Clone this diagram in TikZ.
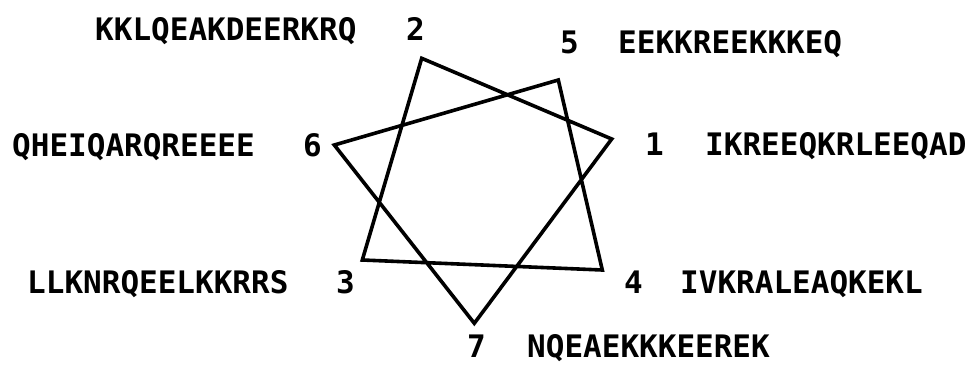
\documentclass[tikz,border=0pt]{standalone}
\usepackage{fontspec}
\newfontfamily\seqfont{DejaVu Sans Mono}
\begin{document}
\begin{tikzpicture}[x=1pt,y=-1pt,
  lbl/.style={anchor=base west,inner sep=0pt,font=\seqfont\bfseries\fontsize{31}{31}\selectfont},
  wheel/.style={line width=3.6pt,line join=miter}]
\useasboundingbox (0,0) rectangle (980,372);
\coordinate (p1) at (611.7,139);
\coordinate (p2) at (421.7,58.3);
\coordinate (p3) at (362.3,260);
\coordinate (p4) at (602.3,270);
\coordinate (p5) at (558.3,80);
\coordinate (p6) at (334.3,145);
\coordinate (p7) at (474.3,323.3);
\draw[wheel] (p1) -- (p2) -- (p3) -- (p4) -- (p5) -- (p6) -- (p7) -- cycle;
\node[lbl] (s2) at (95,40) {KKLQEAKDEERKRQ};
\node[lbl] (n2) at (406,40) {2};
\node[lbl] (n5) at (560,53) {5};
\node[lbl] (s5) at (618,53) {EEKKREEKKKEQ};
\node[lbl] (s6) at (12,156) {QHEIQARQREEEE};
\node[lbl] (n6) at (303,156) {6};
\node[lbl] (n1) at (645,155) {1};
\node[lbl] (s1) at (705,155) {IKREEQKRLEEQAD};
\node[lbl] (s3) at (27,293) {LLKNRQEELKKRRS};
\node[lbl] (n3) at (336,293) {3};
\node[lbl] (n4) at (624,293) {4};
\node[lbl] (s4) at (680,293) {IVKRALEAQKEKL};
\node[lbl] (n7) at (467,357) {7};
\node[lbl] (s7) at (527,357) {NQEAEKKKEEREK};
\end{tikzpicture}
\end{document}
